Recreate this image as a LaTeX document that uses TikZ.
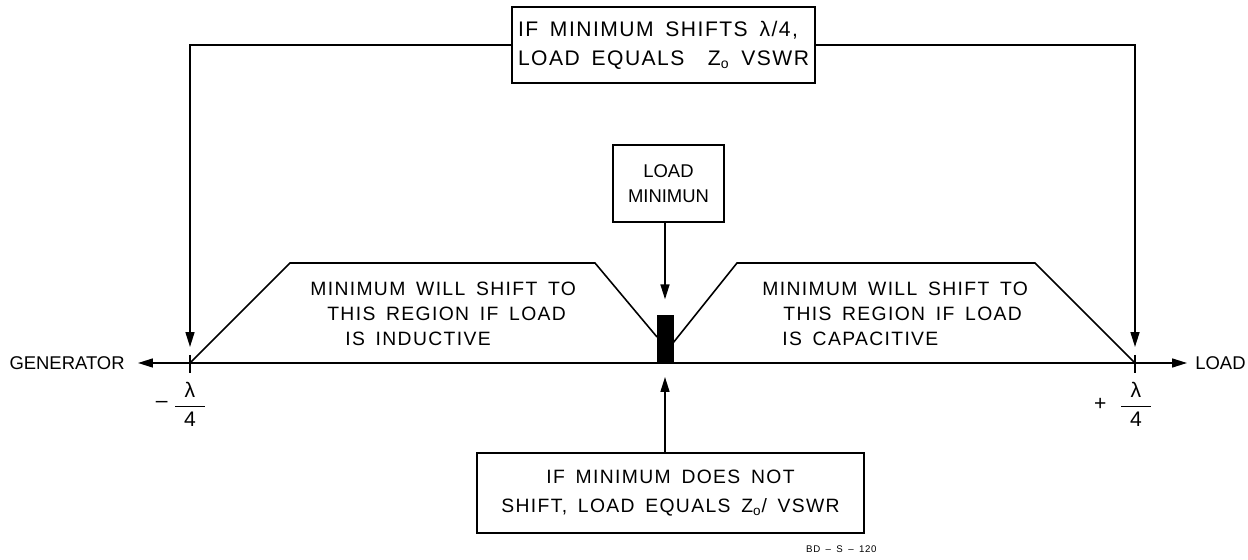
\documentclass[tikz,border=0pt]{standalone}
\usepackage{fontspec}
\usepackage{amsmath}
\setmainfont{Liberation Sans}
\newfontfamily\lettering[LetterSpace=7,WordSpace=1.6]{Liberation Sans}
\usetikzlibrary{arrows.meta}
\usetikzlibrary{positioning}

\begin{document}
\begin{tikzpicture}[
    x=0.02cm, y=-0.02cm,
    textbox/.style={draw, line width=1.4pt, inner sep=0pt},
    lettered/.style={font=\lettering\fontsize{11}{14.2}\selectfont},
    plain/.style={font=\fontsize{10.5}{14.2}\selectfont},
    line/.style={line width=0.9pt},
    >={Triangle[length=3mm, width=1.8mm]}
]
\useasboundingbox (0,0) rectangle (1248,560);

% --- Boxed notes ---
\node[textbox, align=left, minimum width=6.06cm, minimum height=1.52cm,
      font=\lettering\fontsize{12}{16.4}\selectfont] (shiftbox) at (663.5,45)
      {IF MINIMUM SHIFTS λ/4,\\LOAD EQUALS \ Z\textsubscript{o} VSWR};
\node[textbox, plain, align=center, minimum width=2.22cm, minimum height=1.54cm] (loadmin) at (668.5,183.5)
      {LOAD\\MINIMUN};
\node[textbox, align=center, minimum width=7.74cm, minimum height=1.6cm,
      font=\lettering\fontsize{11}{16.4}\selectfont] (noshift) at (670.5,493)
      {IF MINIMUM DOES NOT\\SHIFT, LOAD EQUALS Z\textsubscript{o}/ VSWR};

% --- Line ends ---
\node[plain, anchor=east, inner xsep=0.26cm] (gen) at (138,363) {GENERATOR};
\node[plain, anchor=west, inner xsep=0.16cm] (load) at (1187,363) {LOAD};

% --- Load minimum mark ---
\node[fill=black, inner sep=0pt, minimum width=0.34cm, minimum height=0.96cm,
      anchor=south] (dip) at (665,363) {};

% --- Quarter wave points ---
\coordinate (tickL) at (190,363);
\coordinate (tickR) at (1135,363);
\coordinate (aimL) at (190,347);
\coordinate (aimR) at (1135,347);
\foreach \t in {L,R}
    \draw[line] ([yshift=0.16cm]tick\t) -- ([yshift=-0.2cm]tick\t);

\node[font=\fontsize{12}{14}\selectfont] (fracL) at (190,404) {$\dfrac{\makebox[17pt]{\text{λ}}}{\text{4}}$};
\node[font=\fontsize{12}{14}\selectfont] (fracR) at (1136,404) {$\dfrac{\makebox[17pt]{\text{λ}}}{\text{4}}$};
\node[font=\fontsize{12}{14}\selectfont, left=-4pt of fracL] (minus) {–};
\node[font=\fontsize{12}{14}\selectfont, left=0pt of fracR] (plus) {+};

% --- Main line ---
\draw[line, <->] (gen.east) -- (load.west);

% --- Regions ---
\draw[line] (tickL) -- (290,263) -- (595,263) -- (657,337);
\draw[line] (673,343) -- (737,263) -- (1035,263) -- (tickR);

\node[lettered, align=left, anchor=north west, inner sep=0pt] (inductive) at (310,282)
    {MINIMUM WILL SHIFT TO\\\hspace*{0.34cm}THIS REGION IF LOAD\\\hspace*{0.7cm}IS INDUCTIVE};
\node[lettered, align=left, anchor=north west, inner sep=0pt] (capacitive) at (762,282)
    {MINIMUM WILL SHIFT TO\\\hspace*{0.42cm}THIS REGION IF LOAD\\\hspace*{0.4cm}IS CAPACITIVE};

% --- Pointers ---
\draw[line, ->] (shiftbox.west) -| (aimL);
\draw[line, ->] (shiftbox.east) -| (aimR);
\draw[line, ->, shorten >=0.3cm] (loadmin.south -| dip.north) -- (dip.north);
\draw[line, ->, shorten >=0.28cm] (noshift.north -| dip.south) -- (dip.south);

% --- Drawing number ---
\node[anchor=west, font=\lettering\fontsize{5.5}{6}\selectfont] (code) at (800,549) {BD – S – 120};

\end{tikzpicture}
\end{document}
